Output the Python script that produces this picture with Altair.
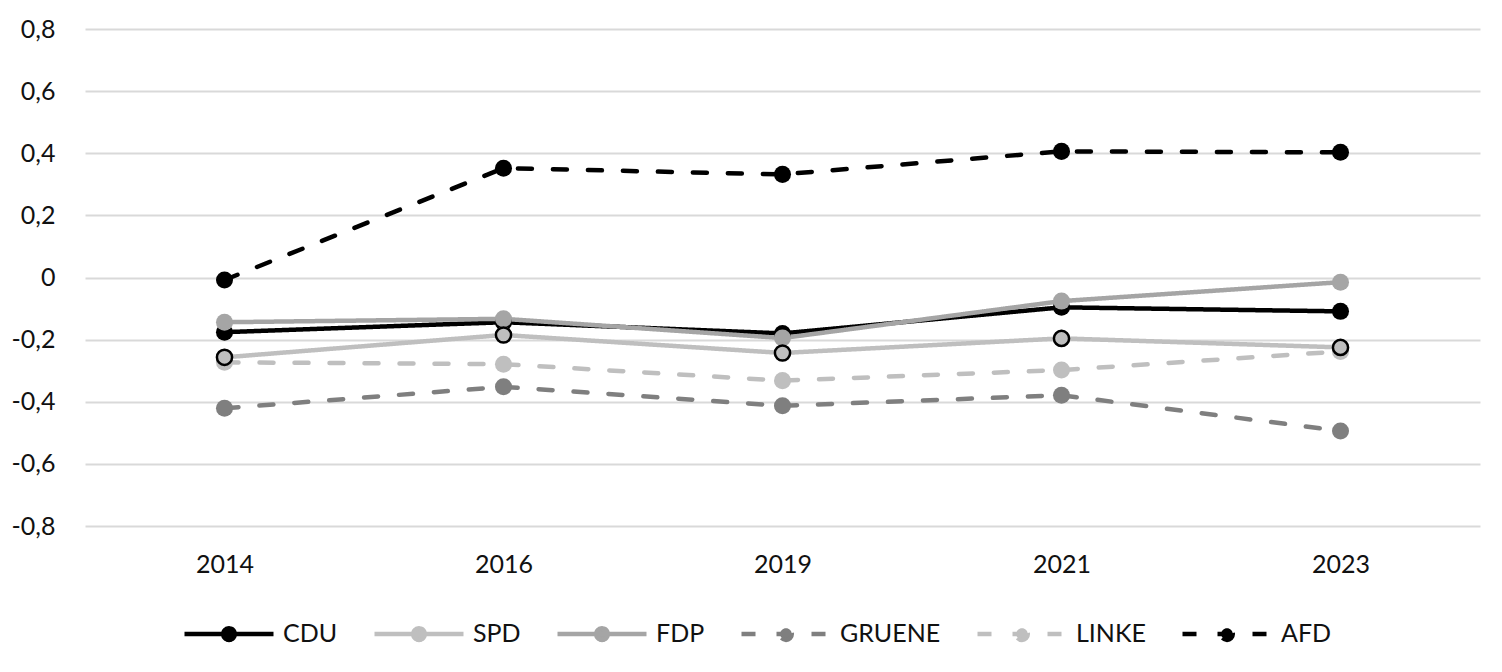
import altair as alt
import pandas as pd

years = ["2014", "2016", "2019", "2021", "2023"]
parties = ["CDU", "SPD", "FDP", "GRUENE", "LINKE", "AFD"]

cdu = [-0.176, -0.144, -0.180, -0.096, -0.109]
spd = [-0.257, -0.185, -0.243, -0.196, -0.225]
fdp = [-0.144, -0.133, -0.195, -0.076, -0.015]
gruene = [-0.421, -0.352, -0.413, -0.379, -0.494]
linke = [-0.273, -0.279, -0.332, -0.298, -0.238]
afd = [-0.008, 0.352, 0.332, 0.406, 0.403]

y_ticks = [-0.8, -0.6, -0.4, -0.2, 0, 0.2, 0.4, 0.6, 0.8]

line_colors = ["#000000", "#bfbfbf", "#a5a5a5", "#7f7f7f", "#bfbfbf", "#000000"]
dashes = [[1, 0], [1, 0], [1, 0], [14, 21], [14, 21], [14, 21]]

circ = "M0.13,0A0.13,0.13,0,1,1,-0.13,0A0.13,0.13,0,1,1,0.13,0Z"
solid_sym = "M-1,0H1" + circ

series = [cdu, spd, fdp, gruene, linke, afd]
rows = []
for i, (p, vals) in enumerate(zip(parties, series)):
    for y, v in zip(years, vals):
        rows.append({"party": p, "year": y, "value": v, "ord": i})
df = pd.DataFrame(rows)

FONT = "Lato"

x_enc = alt.X("year:O", sort=years, scale=alt.Scale(padding=0.5),
              axis=alt.Axis(title=None, labelAngle=0, domain=False, ticks=False,
                            labelFontSize=25, labelPadding=26, labelColor="#111111",
                            labelFont=FONT))
y_enc = alt.Y("value:Q", scale=alt.Scale(domain=[-0.8, 0.8], nice=False, zero=False),
              axis=alt.Axis(title=None, values=y_ticks, domain=False, ticks=False,
                            gridColor="#d9d9d9", gridWidth=2, labelFontSize=25,
                            labelPadding=30, labelColor="#111111", labelFont=FONT,
                            labelExpr="datum.value == 0 ? '0' : (datum.value < 0 ? '-' : '') + replace(format(abs(datum.value), '.1f'), '.', ',')"))

base = alt.Chart(df)

lines = base.mark_line(strokeWidth=4.5, strokeCap="round").encode(
    x=x_enc, y=y_enc,
    stroke=alt.Stroke("party:N", scale=alt.Scale(domain=parties, range=line_colors),
                      legend=alt.Legend(title=None, orient="none", direction="horizontal",
                                        legendX=97, legendY=558,
                                        symbolType=solid_sym, symbolSize=7921,
                                        symbolStrokeWidth=4.5, labelFontSize=25,
                                        labelFont=FONT, labelColor="#111111",
                                        labelOffset=7, columnPadding=27, padding=0)),
    strokeDash=alt.StrokeDash("party:N", scale=alt.Scale(domain=parties, range=dashes), legend=None),
    order=alt.Order("ord:Q"),
)

points = base.mark_point(filled=True, size=290, opacity=1).encode(
    x=x_enc, y=y_enc,
    fill=alt.Fill("party:N", scale=alt.Scale(domain=parties, range=line_colors), legend=None),
    order=alt.Order("ord:Q"),
)

spd_outline = base.transform_filter(alt.datum.party == "SPD").mark_point(
    filled=False, size=230, stroke="#000000", strokeWidth=2.5, opacity=1
).encode(x=x_enc, y=y_enc)

chart = alt.layer(lines, points, spd_outline).properties(
    width=1395, height=497,
    autosize=alt.AutoSizeParams(type="none"),
    padding={"left": 77, "top": 21, "right": 10, "bottom": 135},
).configure(font=FONT).configure_view(stroke=None)

chart.save("out.html", embed_options={"renderer": "svg", "actions": False})
